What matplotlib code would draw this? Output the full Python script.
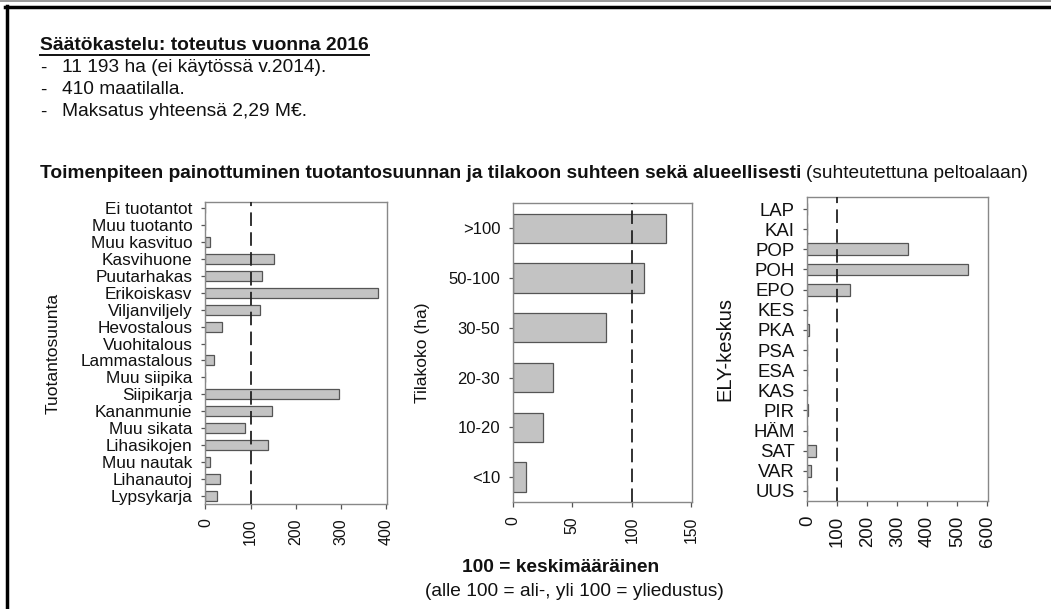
import matplotlib
matplotlib.use("Agg")
import matplotlib.pyplot as plt
from matplotlib.lines import Line2D

plt.rcParams['font.family'] = ['Liberation Sans', 'DejaVu Sans']

# ---- data ----
prod_labels = ["Lypsykarja", "Lihanautoj", "Muu nautak", "Lihasikojen", "Muu sikata",
               "Kananmunie", "Siipikarja", "Muu siipika", "Lammastalous", "Vuohitalous",
               "Hevostalous", "Viljanviljely", "Erikoiskasv", "Puutarhakas", "Kasvihuone",
               "Muu kasvituo", "Muu tuotanto", "Ei tuotantot"]
prod_values = [26, 33, 10, 138, 88, 148, 296, 0, 18, 0, 36, 120, 383, 126, 152, 10, 0, 0]

size_labels = ["<10", "10-20", "20-30", "30-50", "50-100", ">100"]
size_values = [11, 25.5, 34, 78, 110, 129]

ely_labels = ["UUS", "VAR", "SAT", "HÄM", "PIR", "KAS", "ESA", "PSA", "PKA", "KES",
              "EPO", "POH", "POP", "KAI", "LAP"]
ely_values = [0, 13, 28, 0, 3, 0, 0, 0, 7, 0, 143, 537, 334, 0, 0]

prod_ticks = [0, 100, 200, 300, 400]
size_ticks = [0, 50, 100, 150]
ely_ticks = [0, 100, 200, 300, 400, 500, 600]

W, H = 1051, 609
fig = plt.figure(figsize=(W / 100, H / 100), dpi=100)
fig.patch.set_facecolor("white")


def px_axes(left, right, top, bottom):
    return fig.add_axes([left / W, 1 - bottom / H, (right - left) / W, (bottom - top) / H])


def panel(ax, labels, values, ticks, xlim, ylim, ylabel, lab_fs, tick_fs, ylab_fs, ylab_x):
    y = list(range(len(labels)))
    ax.barh(y, values, height=0.59, color="#c3c3c3", edgecolor="#555555", linewidth=0.9, zorder=2)
    ax.set_xlim(*xlim)
    ax.set_ylim(*ylim)
    ax.set_yticks(y)
    ax.set_yticklabels(labels, fontsize=lab_fs, color="#111111")
    ax.set_xticks(ticks)
    ax.set_xticklabels([str(t) for t in ticks], rotation=90, fontsize=tick_fs, color="#111111")
    ax.tick_params(axis="y", length=3, width=0.9, color="#555555", pad=6)
    ax.tick_params(axis="x", length=3.5, width=0.9, color="#555555", pad=7)
    for s in ax.spines.values():
        s.set_color("#888888")
        s.set_linewidth(1.0)
    ln = ax.axvline(100, color="#222222", linewidth=1.3, zorder=3)
    ln.set_dashes((7.5, 3.5))
    pos = ax.get_position()
    fig.text(ylab_x / W, (pos.y0 + pos.y1) / 2, ylabel, rotation=90, ha="center", va="center",
             fontsize=ylab_fs, color="#111111")


ax1 = px_axes(205, 387, 202, 504)
panel(ax1, prod_labels, prod_values, prod_ticks, (-1, 402), (-0.47, 17.35),
      "Tuotantosuunta", 12.4, 11.5, 12.6, 53)

ax2 = px_axes(512.7, 692, 203.3, 502)
panel(ax2, size_labels, size_values, size_ticks, (0, 150.5), (-0.5, 5.5),
      "Tilakoko (ha)", 12.0, 11.3, 12.5, 423)

ax3 = px_axes(807.3, 988.3, 197, 501)
panel(ax3, ely_labels, ely_values, ely_ticks, (0, 603), (-0.5, 14.6),
      "ELY-keskus", 13.4, 13.4, 14.5, 725)

# ---- texts ----
def fy(y):
    return 1 - y / H

renderer = fig.canvas.get_renderer()

t_title = fig.text(40 / W, fy(45), "Säätökastelu: toteutus vuonna 2016", fontsize=13.9,
                   fontweight="bold", ha="left", va="center", color="#111111")
bb = t_title.get_window_extent(renderer)
fig.add_artist(Line2D([bb.x0 / W, bb.x1 / W], [fy(55), fy(55)], color="#111111", lw=1.4))

bullets = ["11 193 ha (ei käytössä v.2014).", "410 maatilalla.", "Maksatus yhteensä 2,29 M€."]
for i, b in enumerate(bullets):
    yy = 68 + 22 * i
    fig.text(40 / W, fy(yy), "-", fontsize=13.8, ha="left", va="center", color="#111111")
    fig.text(62 / W, fy(yy), b, fontsize=13.8, ha="left", va="center", color="#111111")

t_sub = fig.text(40 / W, fy(173), "Toimenpiteen painottuminen tuotantosuunnan ja tilakoon suhteen sekä alueellisesti",
                 fontsize=13.8, fontweight="bold", ha="left", va="center", color="#111111")
bb2 = t_sub.get_window_extent(renderer)
fig.text((bb2.x1 + 5) / W, fy(173), "(suhteutettuna peltoalaan)", fontsize=13.8,
         ha="left", va="center", color="#111111")

fig.text(561 / W, fy(567), "100 = keskimääräinen", fontsize=13.8, fontweight="bold",
         ha="center", va="center", color="#111111")
fig.text(574 / W, fy(592), "(alle 100 = ali-, yli 100 = yliedustus)", fontsize=13.8,
         ha="center", va="center", color="#111111")

# ---- frame ----
fig.add_artist(Line2D([0, 1], [fy(0.5), fy(0.5)], color="#888888", lw=1.2))
fig.add_artist(Line2D([5 / W, 1], [fy(6.5), fy(6.5)], color="black", lw=2.5))
fig.add_artist(Line2D([6.5 / W, 6.5 / W], [fy(5.5), 0], color="black", lw=2.5))

fig.savefig("out.png", dpi=100, facecolor="white")
